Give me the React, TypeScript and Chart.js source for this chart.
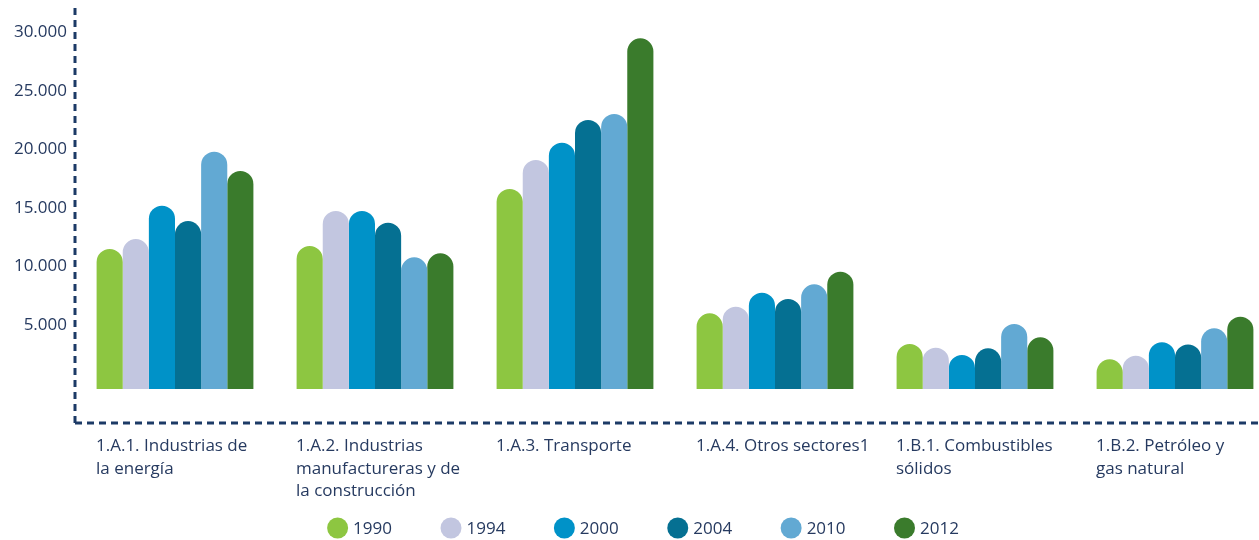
import React, { useEffect, useRef } from "react";
import { Chart, registerables } from "chart.js";

Chart.register(...registerables);

const categories: string[][] = [
  ["1.A.1. Industrias de", "la energía"],
  ["1.A.2. Industrias", "manufactureras y de", "la construcción"],
  ["1.A.3. Transporte"],
  ["1.A.4. Otros sectores1"],
  ["1.B.1. Combustibles", "sólidos"],
  ["1.B.2. Petróleo y", "gas natural"],
];

const years = ["1990", "1994", "2000", "2004", "2010", "2012"];

const s1990 = [11470, 11730, 16600, 5970, 3350, 2040];
const s1994 = [12320, 14720, 19080, 6540, 3030, 2350];
const s2000 = [15170, 14720, 20560, 7740, 2410, 3500];
const s2004 = [13860, 13720, 22500, 7200, 2980, 3320];
const s2010 = [19790, 10760, 23010, 8450, 5060, 4690];
const s2012 = [18140, 11100, 29480, 9530, 3920, 5680];

const yTicks = [5000, 10000, 15000, 20000, 25000, 30000];

const seriesValues = [s1990, s1994, s2000, s2004, s2010, s2012];
const seriesColors = ["#8DC641", "#C2C6E0", "#0092C8", "#057092", "#62A9D3", "#3A7B2C"];

const TEXT = "#263a60";
const AXIS = "#1C3A66";
const FONT = "'Open Sans', 'Noto Sans', sans-serif";

const fmt = (v: number) => String(v).replace(/\B(?=(\d{3})+(?!\d))/g, ".");

const axesPlugin = {
  id: "dashedAxes",
  afterDraw(chart: any) {
    const ctx = chart.ctx as CanvasRenderingContext2D;
    const ys = chart.scales.y;
    const xs = chart.scales.x;
    const left = ys.right;
    const top = ys.top;
    const bottom = xs.top;
    const right = xs.right;
    ctx.save();
    ctx.strokeStyle = AXIS;
    ctx.lineWidth = 3;
    ctx.setLineDash([7, 5]);
    ctx.beginPath();
    ctx.moveTo(left, top);
    ctx.lineTo(left, bottom);
    ctx.stroke();
    ctx.beginPath();
    ctx.moveTo(left, bottom);
    ctx.lineTo(right, bottom);
    ctx.stroke();
    ctx.restore();
  },
};

const legendPlugin = {
  id: "customLegend",
  afterDraw(chart: any) {
    const ctx = chart.ctx as CanvasRenderingContext2D;
    const r = 10.5;
    const gap = 5;
    const itemPad = 48.5;
    const centerX = 643;
    const y = 528;
    ctx.save();
    ctx.font = `17px ${FONT}`;
    ctx.textBaseline = "middle";
    ctx.textAlign = "left";
    const items = chart.data.datasets.map((ds: any) => ({
      label: ds.label,
      color: ds.backgroundColor,
      w: 2 * r + gap + ctx.measureText(ds.label).width,
    }));
    const total = items.reduce((a: number, it: any) => a + it.w, 0) + itemPad * (items.length - 1);
    let x = centerX - total / 2;
    items.forEach((it: any) => {
      ctx.beginPath();
      ctx.fillStyle = it.color;
      ctx.arc(x + r, y, r, 0, Math.PI * 2);
      ctx.fill();
      ctx.fillStyle = TEXT;
      ctx.fillText(it.label, x + 2 * r + gap, y + 1);
      x += it.w + itemPad;
    });
    ctx.restore();
  },
};

export default function App() {
  const ref = useRef<HTMLCanvasElement | null>(null);

  useEffect(() => {
    if (!ref.current) return;
    const chart = new Chart(ref.current, {
      type: "bar",
      data: {
        labels: categories as any,
        datasets: years.map((y, i) => ({
          label: y,
          data: seriesValues[i],
          backgroundColor: seriesColors[i],
          borderWidth: 0,
          borderRadius: 20,
          base: -500,
          categoryPercentage: 0.784,
          barPercentage: 1.0,
        })),
      },
      options: {
        responsive: false,
        animation: false,
        devicePixelRatio: 1,
        layout: { padding: { top: 8, left: 0, right: 0, bottom: 0 } },
        plugins: {
          legend: { display: false },
          tooltip: { enabled: false },
        },
        scales: {
          x: {
            offset: true,
            grid: { display: false, drawTicks: false },
            border: { display: false },
            ticks: {
              color: TEXT,
              font: { family: FONT, size: 17, lineHeight: 1.32 },
              align: "start",
              labelOffset: -79,
              padding: 12,
              maxRotation: 0,
              autoSkip: false,
            },
            afterFit: (axis: any) => {
              axis.height = 117;
              axis.paddingLeft = 0;
              axis.paddingRight = 0;
            },
          },
          y: {
            min: -3400,
            max: 32070,
            grid: { display: false, drawTicks: false },
            border: { display: false },
            ticks: {
              color: TEXT,
              font: { family: FONT, size: 17 },
              padding: 8,
              callback: (v: any) => fmt(Number(v)),
            },
            afterBuildTicks: (axis: any) => {
              axis.ticks = yTicks.map((v) => ({ value: v }));
            },
            afterFit: (axis: any) => {
              axis.width = 75;
              axis.paddingTop = 0;
              axis.paddingBottom = 0;
            },
          },
        },
      },
      plugins: [axesPlugin, legendPlugin],
    });
    return () => chart.destroy();
  }, []);

  return (
    <div
      style={{
        position: "absolute",
        left: 0,
        top: 0,
        width: 1259,
        height: 540,
        overflow: "hidden",
        background: "#fff",
      }}
    >
      <canvas ref={ref} width={1275} height={540} style={{ display: "block" }} />
    </div>
  );
}
